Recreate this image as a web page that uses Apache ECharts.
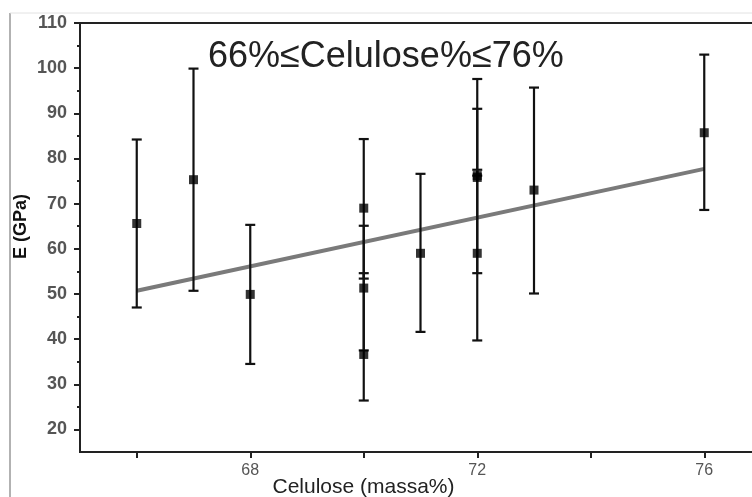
<!DOCTYPE html>
<html>
<head>
<meta charset="utf-8">
<script src="https://cdn.jsdelivr.net/npm/echarts@6/dist/echarts.min.js"></script>
<style>
  html, body { margin: 0; padding: 0; background: #fff; }
  #chart { width: 752px; height: 497px; }
</style>
</head>
<body>
<div id="chart"></div>
<script>
// dados
var celulose = [66, 67, 68, 70, 70, 70, 71, 72, 72, 72, 73, 76];
var modulo   = [65.6, 75.3, 49.9, 69.0, 51.3, 36.6, 59.0, 75.8, 76.2, 59.0, 73.0, 85.7];
var erroInf  = [47.0, 50.7, 34.5, 53.4, 37.5, 26.4, 41.6, 54.6, 76.2, 39.7, 50.1, 68.6];
var erroSup  = [84.2, 99.9, 65.3, 84.3, 65.1, 54.6, 76.6, 97.6, 91.0, 77.5, 95.7, 103.0];

// reta de ajuste
var ajusteX = [66, 76];
var ajusteY = [50.7, 77.7];

// marcas dos eixos
var xTicks  = [66, 68, 70, 72, 74, 76];
var xLabels = [68, 72, 76];
var yTicks  = [20, 30, 40, 50, 60, 70, 80, 90, 100, 110];
var yMinor  = [25, 35, 45, 55, 65, 75, 85, 95, 105];

var fonte = "'Liberation Sans', Arial, sans-serif";

var pontos = celulose.map(function (x, i) { return [x, modulo[i]]; });
var barras = celulose.map(function (x, i) { return [x, erroInf[i], erroSup[i]]; });
var ajuste = ajusteX.map(function (x, i) { return [x, ajusteY[i]]; });

var myChart = echarts.init(document.getElementById('chart'));

myChart.setOption({
    animation: false,
    backgroundColor: '#fff',
    title: {
        text: '66%≤Celulose%≤76%',
        left: 203,
        top: 34,
        textStyle: { fontFamily: fonte, fontSize: 36, fontWeight: 'normal', color: '#222' }
    },
    graphic: [
        { type: 'line', shape: { x1: 10, y1: 13, x2: 10, y2: 497 }, style: { stroke: '#999', lineWidth: 1.5 } },
        { type: 'line', shape: { x1: 10, y1: 13, x2: 752, y2: 13 }, style: { stroke: '#e2e2e2', lineWidth: 1 } }
    ],
    grid: {
        left: 80, top: 23, right: -9, bottom: 45,
        outerBoundsMode: 'none',
        containLabel: false,
        show: true, borderColor: '#222', borderWidth: 2, backgroundColor: 'transparent'
    },
    xAxis: {
        type: 'value',
        min: 65, max: 77,
        name: 'Celulose (massa%)',
        nameLocation: 'middle',
        nameGap: 25,
        nameMoveOverlap: false,
        nameTextStyle: { fontFamily: fonte, fontSize: 21, color: '#222', padding: [0, 114, 0, 0] },
        splitLine: { show: false },
        axisLine: { lineStyle: { color: '#222', width: 2 } },
        axisTick: { customValues: xTicks, length: 6, lineStyle: { color: '#222', width: 2 } },
        axisLabel: { customValues: xLabels, margin: 11, fontFamily: fonte, fontSize: 16, color: '#555' }
    },
    yAxis: [
        {
            type: 'value',
            min: 15, max: 110,
            name: 'E (GPa)',
            nameLocation: 'middle',
            nameRotate: 90,
            nameGap: 50,
            nameMoveOverlap: false,
            nameTextStyle: { fontFamily: fonte, fontSize: 18, fontWeight: 'bold', color: '#111', padding: [0, 0, 0, 22] },
            splitLine: { show: false },
            axisLine: { show: true, lineStyle: { color: '#222', width: 2 } },
            axisTick: { customValues: yTicks, length: 6, lineStyle: { color: '#222', width: 2 } },
            axisLabel: { customValues: yTicks, margin: 13, fontFamily: fonte, fontSize: 18, fontWeight: 'bold', color: '#555' }
        },
        {
            type: 'value',
            min: 15, max: 110,
            position: 'left',
            splitLine: { show: false },
            axisLine: { show: false },
            axisTick: { customValues: yMinor, length: 3, lineStyle: { color: '#222', width: 2 } },
            axisLabel: { show: false }
        }
    ],
    series: [
        {
            type: 'line',
            data: ajuste,
            symbol: 'none',
            lineStyle: { color: '#7a7a7a', width: 4 },
            z: 2
        },
        {
            type: 'custom',
            data: barras,
            z: 3,
            renderItem: function (params, api) {
                var x = api.value(0);
                var pInf = api.coord([x, api.value(1)]);
                var pSup = api.coord([x, api.value(2)]);
                var w = 5;
                var estilo = { stroke: '#111', lineWidth: 2.2 };
                return {
                    type: 'group',
                    children: [
                        { type: 'line', shape: { x1: pInf[0], y1: pInf[1], x2: pSup[0], y2: pSup[1] }, style: estilo },
                        { type: 'line', shape: { x1: pInf[0] - w, y1: pInf[1], x2: pInf[0] + w, y2: pInf[1] }, style: estilo },
                        { type: 'line', shape: { x1: pSup[0] - w, y1: pSup[1], x2: pSup[0] + w, y2: pSup[1] }, style: estilo }
                    ]
                };
            }
        },
        {
            type: 'scatter',
            data: pontos,
            symbol: 'rect',
            symbolSize: 9,
            itemStyle: { color: '#000' },
            z: 4
        }
    ]
});
</script>
</body>
</html>
